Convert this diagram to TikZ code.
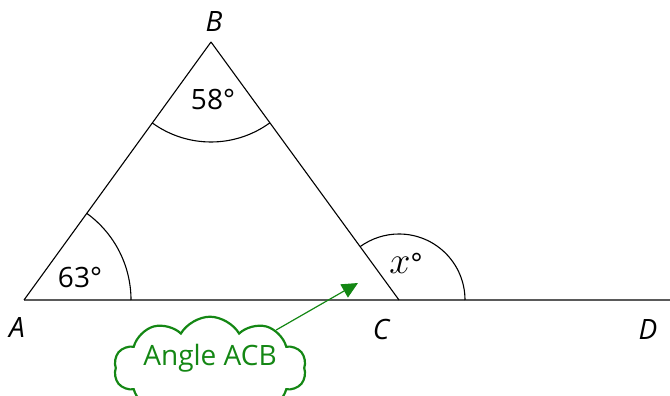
\documentclass[tikz,border=0pt]{standalone}
\usepackage{fix-cm}
\usepackage{fontspec}
\setmainfont{Open Sans}
\usepackage{pgf, tikz}
\usetikzlibrary{shapes.symbols, arrows.meta}
\definecolor{notegreen}{RGB}{20,135,20}
\definecolor{basegray}{RGB}{90,90,90}
\pgfdeclarelayer{edgelayer}
\pgfdeclarelayer{nodelayer}
\pgfsetlayers{edgelayer,nodelayer,main}
\tikzstyle{point}=[coordinate]
\tikzstyle{edge}=[draw=black, line width=1.1pt]
\tikzstyle{baseedge}=[draw=basegray, line width=1.8pt]
\tikzstyle{ptlabel}=[font=\fontsize{28}{32}\selectfont\itshape, inner sep=0pt]
\tikzstyle{anglelabel}=[font=\fontsize{28}{32}\selectfont, inner sep=0pt]
\tikzstyle{note}=[cloud, cloud puffs=10, cloud puff arc=120, aspect=2.6, draw=notegreen, line width=2.2pt, text=notegreen, minimum width=166pt, minimum height=54pt, inner sep=0pt, text depth=26pt, font=\fontsize{28}{32}\selectfont]
\tikzstyle{notearrow}=[draw=notegreen, line width=1.2pt, -{Triangle[length=16pt, width=15pt]}]

\begin{document}
\begin{tikzpicture}[x=1pt, y=1pt]
	\useasboundingbox (0, 0) rectangle (670, 396);
	\begin{pgfonlayer}{nodelayer}
		\node [style=point] (1) at (24, 96) {};
		\node [style=point] (2) at (211, 354) {};
		\node [style=point] (3) at (399, 96) {};
		\node [style=point] (4) at (670, 96) {};
		\node [style=point] (5) at (358, 113) {};
		\node [style=ptlabel] (6) at (17, 68) {A};
		\node [style=ptlabel] (7) at (214, 374) {B};
		\node [style=ptlabel] (8) at (381, 66) {C};
		\node [style=ptlabel] (9) at (648, 66) {D};
		\node [style=anglelabel] (10) at (80, 118) {63°};
		\node [style=anglelabel] (11) at (213, 296) {58°};
		\node [style=anglelabel] (12) at (406, 133) {{\fontsize{38}{40}\selectfont$x$}°};
		\node [style=note] (13) at (210, 28) {Angle ACB};
	\end{pgfonlayer}
	\begin{pgfonlayer}{edgelayer}
		\draw [style=baseedge] (1) to (4);
		\draw [style=edge] (1) to (2);
		\draw [style=edge] (2) to (3);
		\draw [style=edge] (1) ++(0:107pt) arc (0:54.06:107pt);
		\draw [style=edge] (2) ++(234.06:100pt) arc (234.06:305.94:100pt);
		\draw [style=edge] (3) ++(0:66pt) arc (0:125.94:66pt);
		\draw [style=notearrow] (13) to (5);
	\end{pgfonlayer}
\end{tikzpicture}
\end{document}
